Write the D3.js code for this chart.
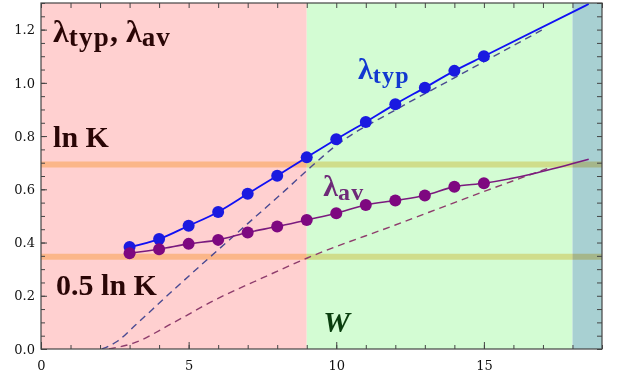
<!DOCTYPE html>
<html>
<head>
<meta charset="utf-8">
<script src="https://cdn.jsdelivr.net/npm/d3@7"></script>
<style>
  body { margin: 0; background: #fff; }
  svg { display: block; }
  text { font-family: "Liberation Serif", "Times New Roman", serif; }
</style>
</head>
<body>
<div id="chart"></div>
<script>
// system sizes and the two exponents
const sizes = [3, 4, 5, 6, 7, 8, 9, 10, 11, 12, 13, 14, 15];
const typVals = [0.383, 0.413, 0.463, 0.515, 0.583, 0.651, 0.720, 0.788, 0.853, 0.920, 0.982, 1.045, 1.100];
const avVals = [0.360, 0.375, 0.395, 0.410, 0.438, 0.460, 0.485, 0.510, 0.541, 0.558, 0.577, 0.610, 0.623];

// solid fit continues past the last point up to the frame
const tailX = [18.55];
const typTail = [1.296];
const avTail = [0.713];

// dashed reference curves
const typDashX = [2.06, 2.6, 3.2, 4.27, 5.74, 7, 8.28, 9, 10, 12, 14, 17.06];
const typDash = [0, 0.03, 0.09, 0.2, 0.347, 0.471, 0.597, 0.67, 0.765, 0.898, 1.019, 1.204];
const avDashX = [2.3, 3.13, 4.5, 5.85, 7.5, 9, 12, 15.13, 17.17];
const avDash = [0, 0.022, 0.1, 0.182, 0.267, 0.341, 0.466, 0.597, 0.679];

// background regions and horizontal levels
const regionFrom = [0, 9, 18];
const regionTo = [9, 18, 19];
const levels = [Math.log(2), 0.5 * Math.log(2)];

const xTicks = [0, 5, 10, 15];
const yTicks = [0, 0.2, 0.4, 0.6, 0.8, 1.0, 1.2];

const regionColors = ["#ffd0d0", "#d3fcd3", "#a8d0d2"];

const margin = { top: 3, right: 24, bottom: 32, left: 41 },
    width = 626 - margin.left - margin.right,
    height = 381 - margin.top - margin.bottom;

const svg = d3.select("#chart").append("svg")
    .attr("width", 626)
    .attr("height", 381)
    .append("g")
    .attr("transform", `translate(${margin.left},${margin.top})`);

const x = d3.scaleLinear().domain([0, 19]).range([0, width]);
const y = d3.scaleLinear().domain([0, 1.3]).range([height, 0]);

svg.append("clipPath").attr("id", "plot")
    .append("rect").attr("width", width).attr("height", height);

// regions
svg.selectAll(".region")
    .data(regionFrom)
    .enter().append("rect")
    .attr("x", (d, i) => x(d))
    .attr("width", (d, i) => x(regionTo[i]) - x(d))
    .attr("y", 0)
    .attr("height", height)
    .attr("fill", (d, i) => regionColors[i]);

// ln K and 0.5 ln K bands
svg.selectAll(".level")
    .data(levels)
    .enter().append("line")
    .attr("x1", 0)
    .attr("x2", width)
    .attr("y1", d => y(d))
    .attr("y2", d => y(d))
    .attr("stroke", "#fbe0a8")
    .attr("stroke-width", 6)
    .style("mix-blend-mode", "multiply");

const plot = svg.append("g").attr("clip-path", "url(#plot)");

const line = d3.line()
    .x(d => x(d[0]))
    .y(d => y(d[1]))
    .curve(d3.curveMonotoneX);

// dashed curves
plot.append("path")
    .datum(typDashX.map((v, i) => [v, typDash[i]]))
    .attr("fill", "none")
    .attr("stroke", "#4a4a92")
    .attr("stroke-width", 1.4)
    .attr("stroke-dasharray", "7,5")
    .attr("d", line);

plot.append("path")
    .datum(avDashX.map((v, i) => [v, avDash[i]]))
    .attr("fill", "none")
    .attr("stroke", "#8e3c6c")
    .attr("stroke-width", 1.4)
    .attr("stroke-dasharray", "7,5")
    .attr("d", line);

// solid lines
const typLine = sizes.map((v, i) => [v, typVals[i]]).concat(tailX.map((v, i) => [v, typTail[i]]));
const avLine = sizes.map((v, i) => [v, avVals[i]]).concat(tailX.map((v, i) => [v, avTail[i]]));

plot.append("path")
    .datum(typLine)
    .attr("fill", "none")
    .attr("stroke", "#1010f4")
    .attr("stroke-width", 1.8)
    .attr("d", line);

plot.append("path")
    .datum(avLine)
    .attr("fill", "none")
    .attr("stroke", "#7a1a7e")
    .attr("stroke-width", 1.6)
    .attr("d", line);

// points
plot.selectAll(".typdot")
    .data(sizes)
    .enter().append("circle")
    .attr("cx", d => x(d))
    .attr("cy", (d, i) => y(typVals[i]))
    .attr("r", 6)
    .attr("fill", "#1a1ae0");

plot.selectAll(".avdot")
    .data(sizes)
    .enter().append("circle")
    .attr("cx", d => x(d))
    .attr("cy", (d, i) => y(avVals[i]))
    .attr("r", 6)
    .attr("fill", "#7e0880");

// labels
function label(px, py, color, parts, italic, size, subSize) {
    const t = svg.append("text")
        .attr("x", x(px))
        .attr("y", y(py))
        .attr("fill", color)
        .attr("font-weight", "bold")
        .attr("font-size", size)
        .attr("font-style", italic ? "italic" : "normal");
    parts.forEach(p => {
        t.append("tspan")
            .attr("font-size", p.sub ? subSize : size)
            .attr("letter-spacing", p.sub ? 1.2 : 0)
            .attr("dy", p.sub ? 4 : (p.back ? -4 : 0))
            .text(p.t);
    });
}

label(0.41, 1.155, "#2a0606", [{ t: "λ" }, { t: "typ", sub: true }, { t: ", λ", back: true }, { t: "av", sub: true }], false, 32, 27);
label(0.41, 0.758, "#2a0606", [{ t: "ln K" }], false, 30, 24);
label(0.51, 0.204, "#2a0606", [{ t: "0.5 ln K" }], false, 30, 24);
label(10.74, 1.013, "#1238d0", [{ t: "λ" }, { t: "typ", sub: true }], false, 30, 24);
label(9.56, 0.573, "#6e2a78", [{ t: "λ" }, { t: "av", sub: true }], false, 30, 24);
label(9.56, 0.065, "#0a3e0e", [{ t: "W" }], true, 30, 24);

// axes with inward ticks on all four sides
const axisColor = "#444";
function styleAxis(g) {
    g.select(".domain").remove();
    g.selectAll("line").attr("stroke", axisColor);
    g.selectAll("text").attr("fill", "#111").attr("font-size", 13)
        .style("font-family", "'DejaVu Serif', serif");
}

const xMinor = d3.range(0, 20, 1);
const yMinor = d3.range(0, 1.31, 0.05);

svg.append("g").attr("transform", `translate(0,${height})`)
    .call(d3.axisBottom(x).tickValues(xMinor).tickSize(-4).tickFormat(""))
    .call(styleAxis);
svg.append("g").attr("transform", `translate(0,${height})`)
    .call(d3.axisBottom(x).tickValues(xTicks).tickSize(-7).tickPadding(12).tickFormat(d3.format("d")))
    .call(styleAxis);
svg.append("g")
    .call(d3.axisTop(x).tickValues(xMinor).tickSize(-5).tickFormat(""))
    .call(styleAxis);

svg.append("g")
    .call(d3.axisLeft(y).tickValues(yMinor).tickSize(-4).tickFormat(""))
    .call(styleAxis);
svg.append("g")
    .call(d3.axisLeft(y).tickValues(yTicks).tickSize(-6).tickPadding(6).tickFormat(d3.format(".1f")))
    .call(styleAxis);
svg.append("g").attr("transform", `translate(${width},0)`)
    .call(d3.axisRight(y).tickValues(yMinor).tickSize(-5).tickFormat(""))
    .call(styleAxis);

// frame
svg.append("rect")
    .attr("width", width)
    .attr("height", height)
    .attr("fill", "none")
    .attr("stroke", axisColor)
    .attr("stroke-width", 1.2);
</script>
</body>
</html>
